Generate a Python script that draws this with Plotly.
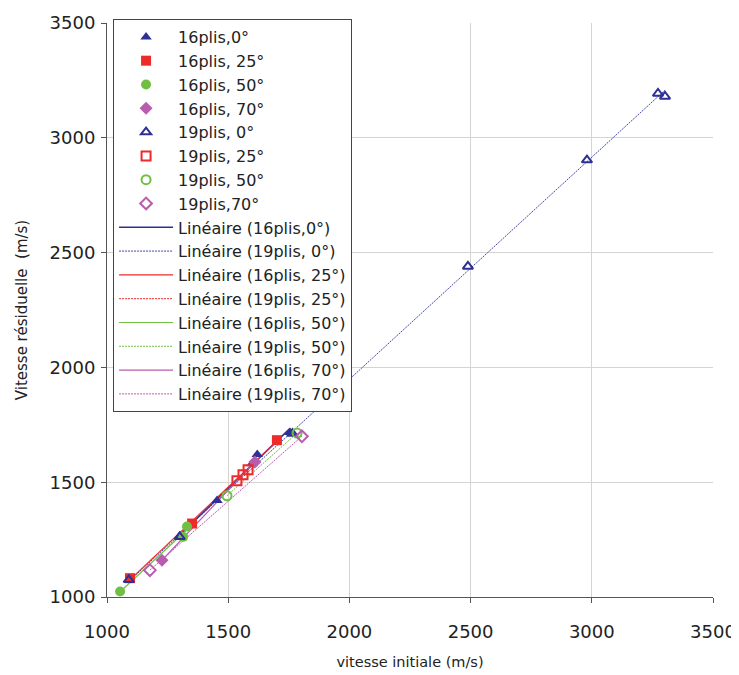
import numpy as np
import plotly.graph_objects as go

# ---- data ----
x_16_0 = [1301, 1454, 1598, 1620, 1755]
y_16_0 = [1266, 1420, 1580, 1621, 1716]
x_16_25 = [1095, 1351, 1701]
y_16_25 = [1082, 1320, 1683]
x_16_50 = [1054, 1314, 1330]
y_16_50 = [1024, 1262, 1307]
x_16_70 = [1227, 1610]
y_16_70 = [1160, 1588]
x_19_0 = [1090, 1300, 1765, 2489, 2980, 3273, 3302]
y_19_0 = [1075, 1262, 1712, 2440, 2903, 3193, 3180]
x_19_25 = [1536, 1561, 1582]
y_19_25 = [1506, 1532, 1554]
x_19_50 = [1495, 1784]
y_19_50 = [1441, 1714]
x_19_70 = [1177, 1804]
y_19_70 = [1117, 1700]

x_ticks = [1000, 1500, 2000, 2500, 3000, 3500]
y_ticks = [1000, 1500, 2000, 2500, 3000, 3500]

NAVY = "#2E3192"
RED = "#EE2A2A"
GREEN = "#70BF44"
MAG = "#B85CB0"

FONT = "DejaVu Sans, Arial, sans-serif"
FINE_DOT = "2px,1px"

series = [
    ("16plis,0°", x_16_0, y_16_0, NAVY, "triangle-up"),
    ("16plis, 25°", x_16_25, y_16_25, RED, "square"),
    ("16plis, 50°", x_16_50, y_16_50, GREEN, "circle"),
    ("16plis, 70°", x_16_70, y_16_70, MAG, "diamond"),
    ("19plis, 0°", x_19_0, y_19_0, NAVY, "triangle-up-open"),
    ("19plis, 25°", x_19_25, y_19_25, RED, "square-open"),
    ("19plis, 50°", x_19_50, y_19_50, GREEN, "circle-open"),
    ("19plis,70°", x_19_70, y_19_70, MAG, "diamond-open"),
]

trend = [
    ("Linéaire (16plis,0°)", x_16_0, y_16_0, NAVY, "solid", 1.6),
    ("Linéaire (19plis, 0°)", x_19_0, y_19_0, "#4548A8", FINE_DOT, 1.0),
    ("Linéaire (16plis, 25°)", x_16_25, y_16_25, RED, "solid", 1.2),
    ("Linéaire (19plis, 25°)", x_19_25, y_19_25, RED, FINE_DOT, 1.0),
    ("Linéaire (16plis, 50°)", x_16_50, y_16_50, GREEN, "solid", 1.2),
    ("Linéaire (19plis, 50°)", x_19_50, y_19_50, GREEN, FINE_DOT, 1.0),
    ("Linéaire (16plis, 70°)", x_16_70, y_16_70, MAG, "solid", 1.2),
    ("Linéaire (19plis, 70°)", x_19_70, y_19_70, MAG, FINE_DOT, 1.0),
]

fig = go.Figure()

# trendlines first (drawn underneath markers), ranked after markers in legend
for i, (name, xs, ys, col, dash, w) in enumerate(trend):
    a, b = np.polyfit(xs, ys, 1)
    xl = [min(xs), max(xs)]
    yl = [a * v + b for v in xl]
    fig.add_trace(go.Scatter(
        x=xl, y=yl, mode="lines", name=name,
        line=dict(color=col, dash=dash, width=w),
        legendrank=100 + i,
    ))

for i, (name, xs, ys, col, sym) in enumerate(series):
    filled = not sym.endswith("open")
    fig.add_trace(go.Scatter(
        x=xs, y=ys, mode="markers", name=name,
        marker=dict(symbol=sym, color=col, size=10 if filled else 9,
                    line=dict(width=2 if not filled else 0, color=col)),
        legendrank=10 + i,
    ))

axis_common = dict(
    showgrid=True, gridcolor="#D4D4D4", gridwidth=1,
    showline=True, linecolor="#555555", linewidth=1,
    ticks="outside", ticklen=5, tickcolor="#555555",
    tickfont=dict(family=FONT, size=18, color="#222222"),
    zeroline=False, mirror=False, automargin=False,
)

# page body has an 8px margin: figure is sized/offset so the plot area lands
# at x 107..713, y 19..597 of the 739x675 window
fig.update_layout(
    width=731, height=667,
    margin=dict(l=99, r=26, t=11, b=78),
    paper_bgcolor="white", plot_bgcolor="white",
    font=dict(family=FONT, color="#222222"),
    xaxis=dict(range=[1000, 3500], tickvals=x_ticks, ticklabelstandoff=13,
               title=dict(text="vitesse initiale (m/s)", font=dict(size=14.5), standoff=16),
               **axis_common),
    yaxis=dict(range=[1000, 3500], tickvals=y_ticks, ticklabelstandoff=2,
               title=dict(text="Vitesse résiduelle  (m/s)", font=dict(size=15), standoff=18),
               **axis_common),
    showlegend=True,
    legend=dict(
        x=0.01, y=1.007, xanchor="left", yanchor="top",
        bgcolor="white", bordercolor="#444444", borderwidth=1,
        font=dict(family=FONT, size=16, color="#222222"),
        itemwidth=54, tracegroupgap=0, maxheight=500,
    ),
)

fig.write_html("out.html")
